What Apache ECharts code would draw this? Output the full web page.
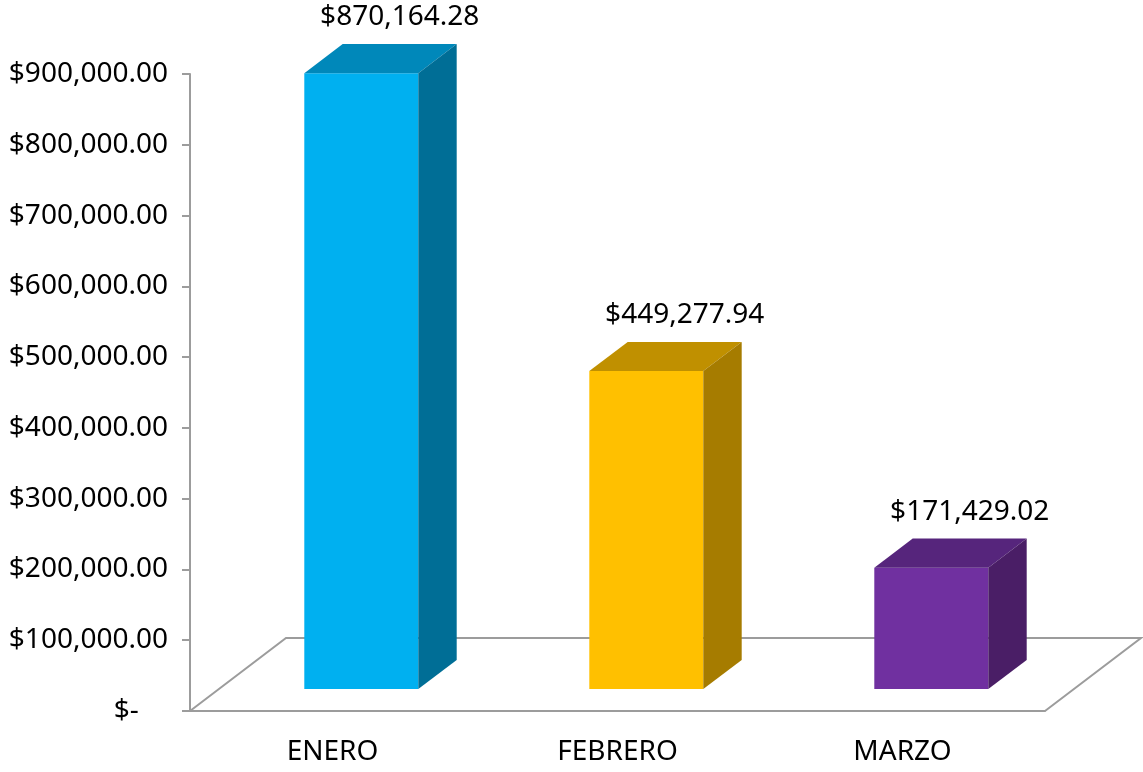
<!DOCTYPE html>
<html>
<head>
<meta charset="utf-8">
<script src="https://cdn.jsdelivr.net/npm/echarts@6/dist/echarts.min.js"></script>
<style>
  html, body { margin: 0; padding: 0; background: #fff; }
  #chart { width: 1143px; height: 772px; }
</style>
</head>
<body>
<div id="chart"></div>
<script>
  // datos del gráfico
  const meses = ['ENERO', 'FEBRERO', 'MARZO'];
  const montos = [870164.28, 449277.94, 171429.02];
  const ticksY = [0, 100000, 200000, 300000, 400000, 500000, 600000, 700000, 800000, 900000];

  // colores por barra: frente, tapa, lateral
  const coloresFrente = ['#00B0F0', '#FFC000', '#7030A0'];
  const coloresTapa = ['#0088BA', '#C09000', '#56257C'];
  const coloresLado = ['#006E96', '#A67C00', '#4A1E66'];

  const FONT = '"Noto Sans", sans-serif';
  const GRIS = '#9C9C9C';
  // profundidad del piso (px) y posición de la barra dentro de él
  const PISO_DX = 96, PISO_DY = 73;
  const BARRA_INI = 0.3, BARRA_PROF = 0.4, BARRA_ANCHO = 0.4;

  const dinero = v => v === 0 ? '$-    ' :
    '$' + v.toLocaleString('en-US', { minimumFractionDigits: 2, maximumFractionDigits: 2 });

  const chart = echarts.init(document.getElementById('chart'));

  const option = {
    animation: false,
    grid: { left: 190, right: 98, top: 74, bottom: 61 },
    xAxis: {
      type: 'category',
      data: meses,
      axisLine: { lineStyle: { color: GRIS, width: 2 } },
      axisTick: { length: 9, lineStyle: { color: GRIS, width: 2 } },
      axisLabel: { color: '#000', fontFamily: FONT, fontSize: 28, margin: 27 }
    },
    yAxis: {
      type: 'value',
      min: 0,
      max: 900000,
      interval: 100000,
      axisLine: { show: true, lineStyle: { color: GRIS, width: 2 } },
      axisTick: { show: true, length: 8, lineStyle: { color: GRIS, width: 2 } },
      splitLine: { show: false },
      axisLabel: {
        color: '#000', fontFamily: FONT, fontSize: 28, margin: 22,
        formatter: v => ticksY.includes(v) ? dinero(v) : ''
      }
    },
    series: [
      {
        // piso en perspectiva
        type: 'custom',
        z: 2,
        data: [[0]],
        renderItem: (params, api) => {
          const banda = api.size([1, 0])[0];
          const p0 = api.coord([0, 0]);
          const p1 = api.coord([meses.length - 1, 0]);
          const izq = p0[0] - banda / 2, der = p1[0] + banda / 2, y0 = p0[1];
          return {
            type: 'polyline',
            shape: { points: [[izq, y0], [izq + PISO_DX, y0 - PISO_DY], [der + PISO_DX, y0 - PISO_DY], [der, y0]] },
            style: { stroke: GRIS, lineWidth: 2, fill: null }
          };
        }
      },
      {
        // barras 3D
        type: 'custom',
        z: 3,
        data: montos.map((v, i) => [i, v]),
        renderItem: (params, api) => {
          const i = api.value(0);
          const banda = api.size([1, 0])[0];
          const base = api.coord([i, 0]);
          const tope = api.coord([i, api.value(1)]);
          const ox = PISO_DX * BARRA_INI, oy = PISO_DY * BARRA_INI;
          const dx = PISO_DX * BARRA_PROF, dy = PISO_DY * BARRA_PROF;
          const w = banda * BARRA_ANCHO;
          const x1 = base[0] + ox - w / 2, x2 = x1 + w;
          const yb = base[1] - oy, yt = tope[1] - oy;
          return {
            type: 'group',
            children: [
              {
                type: 'rect',
                shape: { x: x1, y: yt, width: w, height: yb - yt },
                style: { fill: coloresFrente[i] }
              },
              {
                type: 'polygon',
                shape: { points: [[x1, yt], [x2, yt], [x2 + dx, yt - dy], [x1 + dx, yt - dy]] },
                style: { fill: coloresTapa[i] }
              },
              {
                type: 'polygon',
                shape: { points: [[x2, yt], [x2 + dx, yt - dy], [x2 + dx, yb - dy], [x2, yb]] },
                style: { fill: coloresLado[i] }
              },
              {
                type: 'text',
                style: {
                  x: x1 + dx + w / 2,
                  y: yt - dy - 27,
                  text: dinero(api.value(1)),
                  fill: '#000',
                  font: '28px ' + FONT,
                  align: 'center',
                  verticalAlign: 'middle'
                }
              }
            ]
          };
        }
      }
    ]
  };

  chart.setOption(option);
</script>
</body>
</html>
